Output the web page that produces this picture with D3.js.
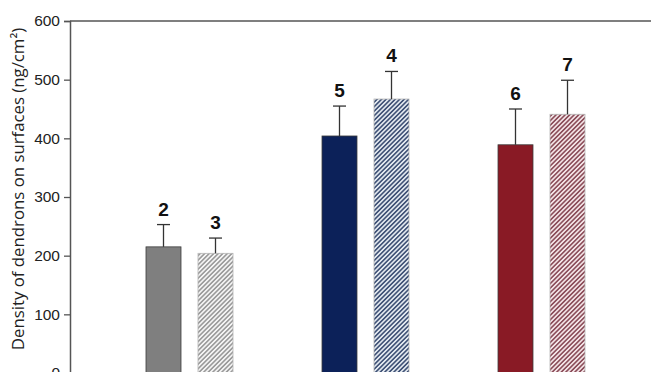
<!DOCTYPE html>
<html>
<head>
<meta charset="utf-8">
<script src="https://cdn.jsdelivr.net/npm/d3@7"></script>
<style>
  html, body { margin: 0; padding: 0; background: #fff; }
  svg { display: block; }
</style>
</head>
<body>
<svg id="chart" width="651" height="372"></svg>
<script>
// Surface density of dendrons, three pairs of samples (solid vs. hatched)
const groups = ["A", "B", "C"];
const series = ["solid", "hatched"];
const sampleLabels = ["2", "3", "5", "4", "6", "7"];
const means = [215, 204, 404, 467, 389, 441];
const errors = [38, 26, 51, 47, 61, 58];
const yTicks = [0, 100, 200, 300, 400, 500, 600];
const yTitle = "Density of dendrons on surfaces (ng/cm\u00B2)";

const fills = ["#7f7f7f", "hatch-gray", "#0c2159", "hatch-navy", "#891a25", "hatch-red"];
const hatchDefs = [
  { id: "hatch-gray", bg: "#f4f4f4", line: "#8e8e8e" },
  { id: "hatch-navy", bg: "#e2e8ef", line: "#2a3d66" },
  { id: "hatch-red",  bg: "#f3e3e6", line: "#7d3a47" }
];

const svg = d3.select("#chart");
const W = 651, H = 372;
const axisX = 70, topY = 21, zeroY = 373;

const y = d3.scaleLinear().domain([0, 600]).range([zeroY, topY]);
const x0 = d3.scaleBand().domain(groups).range([101.5, 629.5]).padding(0);
const x1 = d3.scaleBand().domain(series).range([0, 87]).paddingInner(0.327).paddingOuter(0);

// hatch patterns
const defs = svg.append("defs");
hatchDefs.forEach(h => {
  const p = defs.append("pattern")
    .attr("id", h.id)
    .attr("patternUnits", "userSpaceOnUse")
    .attr("width", 3.2).attr("height", 3.2)
    .attr("patternTransform", "rotate(45)");
  p.append("rect").attr("width", 3.2).attr("height", 3.2).attr("fill", h.bg);
  p.append("line").attr("x1", 0.8).attr("y1", 0).attr("x2", 0.8).attr("y2", 3.2)
    .attr("stroke", h.line).attr("stroke-width", 1.4);
});

const bars = means.map((v, i) => ({
  group: groups[Math.floor(i / 2)],
  s: series[i % 2],
  v, e: errors[i], label: sampleLabels[i], fill: fills[i]
}));

const bx = d => x0(d.group) + x0.bandwidth() / 2 - 43.5 + x1(d.s);
const bw = x1.bandwidth();

// bars
svg.append("g").selectAll("rect").data(bars).join("rect")
  .attr("x", bx)
  .attr("y", d => y(d.v))
  .attr("width", bw)
  .attr("height", d => y(0) - y(d.v))
  .attr("fill", d => d.fill.startsWith("hatch") ? `url(#${d.fill})` : d.fill)
  .attr("stroke", d => d.fill.startsWith("hatch") ? "#b5b5b5" : "#3c3c3c")
  .attr("stroke-width", 0.8);

// error bars (upper half only)
const eb = svg.append("g").attr("stroke", "#333").attr("stroke-width", 1.3);
bars.forEach(d => {
  const cx = bx(d) + bw / 2;
  eb.append("line").attr("x1", cx).attr("x2", cx).attr("y1", y(d.v)).attr("y2", y(d.v + d.e));
  eb.append("line").attr("x1", cx - 6.5).attr("x2", cx + 6.5).attr("y1", y(d.v + d.e)).attr("y2", y(d.v + d.e));
});

// sample numbers above the error bars
svg.append("g").selectAll("text").data(bars).join("text")
  .attr("x", d => bx(d) + bw / 2)
  .attr("y", d => y(d.v + d.e) - 9)
  .attr("text-anchor", "middle")
  .attr("font-family", "Liberation Sans, Arial, sans-serif")
  .attr("font-weight", "bold")
  .attr("font-size", 19)
  .attr("fill", "#111")
  .text(d => d.label);

// y axis
const yAxis = d3.axisLeft(y).tickValues(yTicks).tickSize(6).tickPadding(4);
const ga = svg.append("g").attr("transform", `translate(${axisX},0)`).call(yAxis);
ga.select(".domain").attr("stroke", "#555").attr("stroke-width", 1.5);
ga.selectAll(".tick line").attr("stroke", "#555").attr("stroke-width", 1.3);
ga.selectAll(".tick text")
  .attr("font-family", "Liberation Sans, Arial, sans-serif")
  .attr("font-size", 15.5)
  .attr("fill", "#222");

// top frame line
svg.append("line")
  .attr("x1", axisX).attr("x2", W)
  .attr("y1", y(600)).attr("y2", y(600))
  .attr("stroke", "#555").attr("stroke-width", 1.5);

// y title
svg.append("text")
  .attr("transform", `translate(24,${(20 + 358) / 2}) rotate(-90)`)
  .attr("text-anchor", "middle")
  .attr("font-family", "Open Sans, sans-serif")
  .attr("font-size", 16.8)
  .attr("fill", "#222")
  .text(yTitle);
</script>
</body>
</html>
